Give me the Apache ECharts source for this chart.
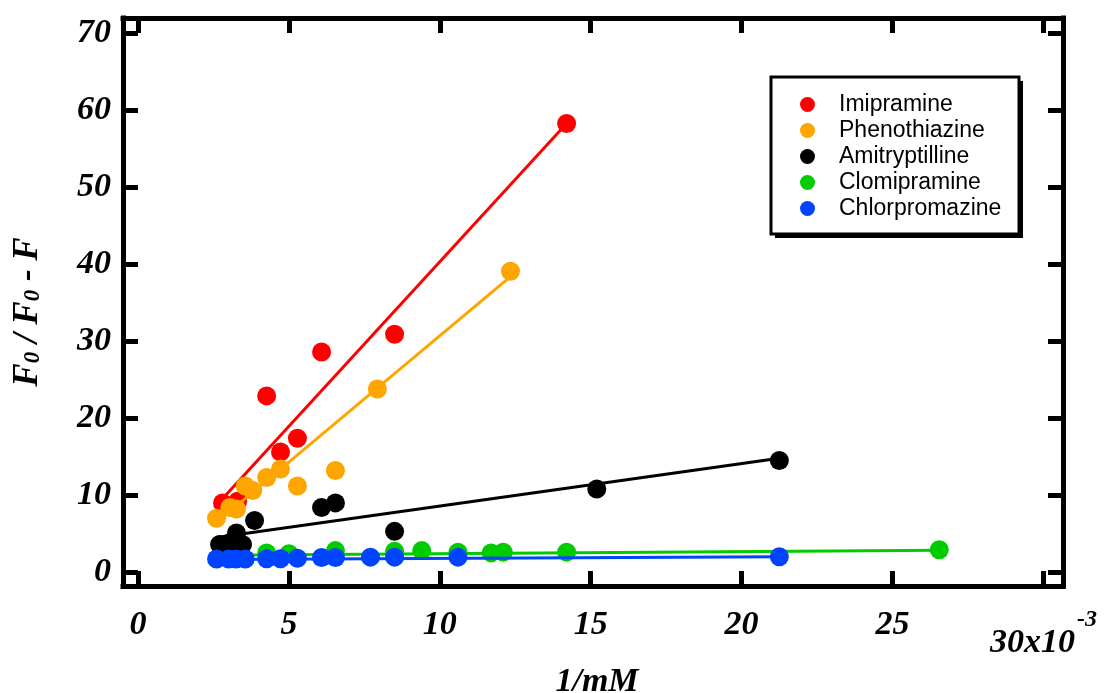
<!DOCTYPE html>
<html>
<head>
<meta charset="utf-8">
<script src="https://cdn.jsdelivr.net/npm/echarts@6/dist/echarts.min.js"></script>
<style>
  html, body { margin: 0; padding: 0; background: #ffffff; }
  #chart { width: 1113px; height: 693px; }
</style>
</head>
<body>
<div id="chart"></div>
<script>
// Stern–Volmer style plot: F0/(F0-F) against 1/[quencher] (x in units of 1e-3 1/mM)
const drugNames = ['Imipramine', 'Phenothiazine', 'Amitryptilline', 'Clomipramine', 'Chlorpromazine'];
const drugColors = ['#ff0000', '#ffa500', '#000000', '#00cc00', '#0044ff'];

// measured points [1/mM (x1e-3), F0/(F0-F)]
const imipramine = [[2.8, 9.0], [3.3, 9.2], [4.26, 22.9], [4.72, 15.6], [5.28, 17.4], [6.08, 28.6], [8.5, 30.9], [14.2, 58.3]];
const phenothiazine = [[2.6, 7.0], [3.04, 8.4], [3.26, 8.2], [3.55, 11.2], [3.8, 10.6], [4.26, 12.3], [4.72, 13.4], [5.28, 11.2], [6.54, 13.2], [7.93, 23.8], [12.34, 39.1]];
const amitryptilline = [[2.7, 3.6], [3.03, 3.8], [3.26, 5.1], [3.46, 3.6], [3.86, 6.7], [6.08, 8.4], [6.54, 9.0], [8.5, 5.3], [15.2, 10.8], [21.25, 14.5]];
const clomipramine = [[4.26, 2.5], [5.0, 2.4], [6.54, 2.8], [8.5, 2.7], [9.4, 2.8], [10.6, 2.6], [11.7, 2.5], [12.1, 2.6], [14.2, 2.6], [26.55, 2.9]];
const chlorpromazine = [[2.6, 1.7], [3.0, 1.7], [3.25, 1.7], [3.55, 1.7], [4.26, 1.75], [4.72, 1.75], [5.28, 1.8], [6.08, 1.9], [6.54, 1.9], [7.7, 1.95], [8.5, 1.95], [10.6, 1.95], [21.25, 2.0]];

// linear fit lines, start and end point of each
const imipramineFit = [[2.53, 8.4], [14.2, 58.3]];
const phenothiazineFit = [[2.53, 6.2], [12.34, 38.4]];
const amitryptillineFit = [[2.6, 4.5], [21.25, 14.8]];
const clomipramineFit = [[2.6, 2.2], [26.55, 2.85]];
const chlorpromazineFit = [[2.6, 1.65], [21.25, 2.0]];

const xTicks = [0, 5, 10, 15, 20, 25, 30];
const yTicks = [0, 10, 20, 30, 40, 50, 60, 70];

const pointSets = [imipramine, phenothiazine, amitryptilline, clomipramine, chlorpromazine];
const fitSets = [imipramineFit, phenothiazineFit, amitryptillineFit, clomipramineFit, chlorpromazineFit];

const serif = "'Liberation Serif', 'Times New Roman', serif";
const labelFont = { fontFamily: serif, fontWeight: 'bold', fontStyle: 'italic', fontSize: 34, color: '#000' };

const frameLine = { show: true, onZero: false, lineStyle: { color: '#000', width: 5, cap: 'square' } };
const frameTick = (vals) => ({ show: true, inside: true, length: 15, customValues: vals, lineStyle: { color: '#000', width: 5 } });

const series = [];
drugNames.forEach((name, i) => {
  series.push({
    name: name,
    type: 'scatter',
    data: pointSets[i],
    symbol: 'circle',
    symbolSize: 19,
    itemStyle: { color: drugColors[i], opacity: 1 },
    emphasis: { disabled: true },
    z: 3 + i * 2
  });
  series.push({
    name: name + ' fit',
    type: 'line',
    data: fitSets[i],
    showSymbol: false,
    symbol: 'none',
    lineStyle: { color: drugColors[i], width: 3 },
    emphasis: { disabled: true },
    z: 4 + i * 2
  });
});

// legend box geometry
const legendBox = { x: 771, y: 77, w: 248, h: 157, shadow: 4 };

const chart = echarts.init(document.getElementById('chart'), null, { renderer: 'canvas' });
chart.setOption({
  animation: false,
  backgroundColor: '#ffffff',
  grid: { left: 123, right: 50, top: 18, bottom: 107, containLabel: false, outerBoundsMode: 'none' },
  graphic: [
    {
      type: 'rect',
      z: 1,
      silent: true,
      shape: { x: legendBox.x + legendBox.shadow, y: legendBox.y + legendBox.shadow, width: legendBox.w, height: legendBox.h },
      style: { fill: '#000000' }
    },
    {
      type: 'rect',
      z: 2,
      silent: true,
      shape: { x: legendBox.x, y: legendBox.y, width: legendBox.w, height: legendBox.h },
      style: { fill: '#ffffff', stroke: '#000000', lineWidth: 3 }
    }
  ],
  xAxis: [
    {
      type: 'value', position: 'bottom', min: -0.5, max: 30.65,
      axisLine: frameLine,
      axisTick: frameTick(xTicks),
      splitLine: { show: false },
      axisLabel: Object.assign({}, labelFont, {
        margin: 22,
        customValues: xTicks,
        formatter: (v) => v === 30 ? '{n|30x10}{e|-3}' : String(v),
        rich: {
          n: { fontFamily: serif, fontWeight: 'bold', fontStyle: 'italic', fontSize: 34, color: '#000', padding: [18, 0, 0, 0], verticalAlign: 'top' },
          e: { fontFamily: serif, fontWeight: 'bold', fontStyle: 'italic', fontSize: 24, color: '#000', padding: [0, 0, 0, 2], verticalAlign: 'top' }
        }
      }),
      name: '1/mM',
      nameLocation: 'middle',
      nameGap: 77,
      nameTextStyle: Object.assign({}, labelFont, { padding: [0, 0, 0, 8] })
    },
    {
      type: 'value', position: 'top', min: -0.5, max: 30.65,
      axisLine: frameLine,
      axisTick: frameTick(xTicks),
      axisLabel: { show: false },
      splitLine: { show: false }
    }
  ],
  yAxis: [
    {
      type: 'value', position: 'left', min: -1.8, max: 72,
      axisLine: frameLine,
      axisTick: frameTick(yTicks),
      splitLine: { show: false },
      axisLabel: Object.assign({}, labelFont, { margin: 12, customValues: yTicks }),
      name: '{f|F}{s|0}{f| / F}{s|0}{f| - F}',
      nameLocation: 'middle',
      nameRotate: 90,
      nameGap: 78,
      nameTextStyle: {
        padding: [0, 20, 0, 0],
        rich: {
          f: { fontFamily: serif, fontWeight: 'bold', fontStyle: 'italic', fontSize: 35, color: '#000', verticalAlign: 'bottom' },
          s: { fontFamily: serif, fontWeight: 'bold', fontStyle: 'italic', fontSize: 23, color: '#000', verticalAlign: 'bottom' }
        }
      }
    },
    {
      type: 'value', position: 'right', min: -1.8, max: 72,
      axisLine: frameLine,
      axisTick: frameTick(yTicks),
      axisLabel: { show: false },
      splitLine: { show: false }
    }
  ],
  legend: {
    data: drugNames,
    orient: 'vertical',
    left: 772,
    top: 76,
    z: 10,
    padding: [17, 15, 15, 28],
    itemWidth: 15,
    itemHeight: 15,
    itemGap: 3,
    icon: 'circle',
    selectedMode: false,
    textStyle: { fontFamily: "'Liberation Sans', Arial, sans-serif", fontSize: 23, lineHeight: 22, color: '#000', padding: [0, 0, 0, 19] }
  },
  series: series
});
</script>
</body>
</html>
